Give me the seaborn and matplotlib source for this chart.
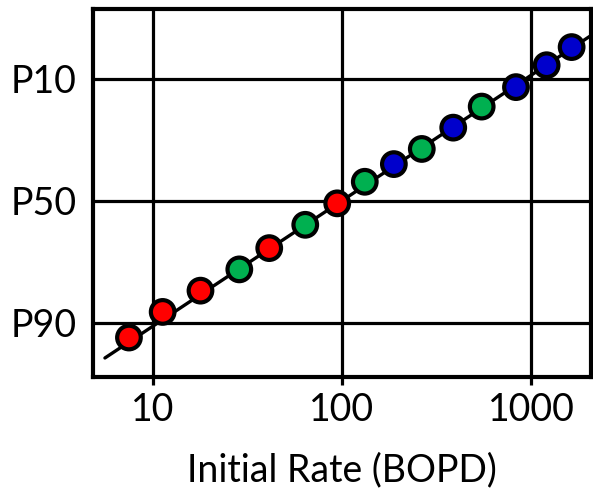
import pandas as pd
import seaborn as sns
import matplotlib.pyplot as plt
from matplotlib.ticker import NullLocator
from statistics import NormalDist

# initial rates (BOPD) and exceedance percentile
rate = [7.5, 11.3, 17.9, 28.7, 41.3, 64.0, 94.4, 132, 188, 264, 387, 547,
        830, 1205, 1633]
pct = [92.5, 87.9, 82.8, 76.5, 69.1, 60.0, 51.1, 42.1, 35.0, 29.3, 22.1,
       16.1, 11.6, 7.7, 5.3]
group = ['red', 'red', 'red', 'green', 'red', 'green', 'red', 'green', 'blue',
         'green', 'blue', 'green', 'blue', 'blue', 'blue']

# fitted lognormal line end points
fit_rate = [5.6, 2030]
fit_pct = [95.1, 4.2]

p_ticks = [10, 50, 90]
p_labels = ['P10', 'P50', 'P90']
x_ticks = [10, 100, 1000]
x_labels = ['10', '100', '1000']

colors = {'red': '#FF0000', 'green': '#00B050', 'blue': '#0000CC'}

nd = NormalDist()
def to_z(p):
    return nd.inv_cdf(1 - p / 100.0)

df = pd.DataFrame({'rate': rate, 'z': [to_z(p) for p in pct], 'group': group})

sns.set_style("white")
plt.rcParams['font.family'] = ['Lato', 'DejaVu Sans']
plt.rcParams['text.color'] = 'black'
plt.rcParams['xtick.color'] = 'black'
plt.rcParams['ytick.color'] = 'black'
plt.rcParams['axes.labelcolor'] = 'black'

fig = plt.figure(figsize=(5.93, 4.92), dpi=100)
ax = fig.add_axes([0.1573, 0.2337, 0.8398, 0.747])

sns.lineplot(x=fit_rate, y=[to_z(p) for p in fit_pct], color='black',
             linewidth=2.4, ax=ax, zorder=2)
sns.scatterplot(data=df, x='rate', y='z', hue='group', palette=colors, s=289,
                edgecolor='black', linewidth=3, legend=False, ax=ax, zorder=3)

ax.set_xscale('log')
ax.set_xlim(4.86, 2074)
ax.set_ylim(-1.855, 2.012)
ax.xaxis.set_minor_locator(NullLocator())
ax.set_xticks(x_ticks, x_labels)
ax.set_yticks([to_z(p) for p in p_ticks], p_labels)

ax.grid(True, color='black', linewidth=2.3)
ax.set_axisbelow(True)
for s in ax.spines.values():
    s.set_color('black')
    s.set_linewidth(3)

ax.tick_params(axis='x', direction='out', length=6, width=2.3, pad=5,
               labelsize=27, bottom=True)
ax.tick_params(axis='y', length=0, pad=12, labelsize=27)
ax.set_xlabel('Initial Rate (BOPD)', fontsize=27, labelpad=17)
ax.set_ylabel('')

plt.savefig('out.png', dpi=100)
